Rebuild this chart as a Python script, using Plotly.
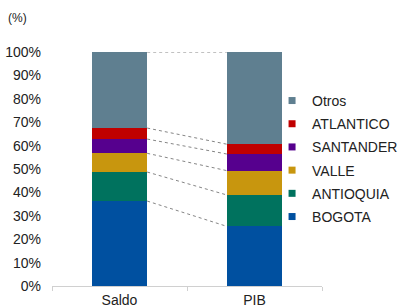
import plotly.graph_objects as go
import numpy as np

categories = ["Saldo", "PIB"]
series_names = ["BOGOTA", "ANTIOQUIA", "VALLE", "SANTANDER", "ATLANTICO", "Otros"]
bogota = [36.3, 25.5]
antioquia = [12.4, 13.4]
valle = [8.0, 10.4]
santander = [6.1, 7.1]
atlantico = [4.7, 4.2]
otros = [32.5, 39.4]
y_ticks = list(range(0, 101, 10))
y_tick_labels = [f"{v}%" for v in y_ticks]

colors = ["#0050A0", "#00725E", "#C8960E", "#56008E", "#C00000", "#5F7F90"]
series = [bogota, antioquia, valle, santander, atlantico, otros]

bar_w = 0.41
fig = go.Figure()
for name, vals, col in zip(series_names, series, colors):
    fig.add_trace(go.Bar(x=categories, y=vals, name=name, marker_color=col,
                         marker_line_width=0, width=bar_w, showlegend=False))
# legend entries, top to bottom: Otros ... BOGOTA
for name, col in reversed(list(zip(series_names, colors))):
    fig.add_trace(go.Scatter(x=[None], y=[None], mode="markers", name=name,
                             legendgroup=name,
                             marker=dict(symbol="square", size=7, color=col)))

# dotted connectors between segment tops
cum = np.cumsum(np.array(series), axis=0)
for row in cum:
    fig.add_shape(type="line", xref="x", yref="y",
                  x0=0 + bar_w / 2, x1=1 - bar_w / 2, y0=row[0], y1=row[1],
                  line=dict(color="#666666", width=0.8, dash="dot"))

fig.add_annotation(text="(%)", xref="paper", yref="paper", x=-0.128, y=1.145,
                   xanchor="center", yanchor="middle", showarrow=False,
                   font=dict(size=12, color="#222"))

fig.update_layout(
    width=401, height=307,
    margin=dict(l=52, r=79, t=52, b=21, autoexpand=False),
    barmode="stack",
    plot_bgcolor="white", paper_bgcolor="white",
    font=dict(family="Liberation Sans, Arial, sans-serif", size=14, color="#222"),
    showlegend=True,
    legend=dict(x=0.815, y=0.543, xanchor="left", yanchor="middle",
                traceorder="grouped", tracegroupgap=2,
                font=dict(size=14), itemwidth=30, bgcolor="rgba(0,0,0,0)"),
    xaxis=dict(type="category", range=[-0.5, 1.5], showgrid=False,
               showline=True, linecolor="#d0d0d0", linewidth=1,
               ticks="outside", tickson="boundaries", ticklen=4, tickcolor="#d0d0d0",
               ticklabelstandoff=1,
               automargin=False, tickfont=dict(size=14)),
    yaxis=dict(range=[0, 100], tickvals=y_ticks, ticktext=y_tick_labels,
               showgrid=False, showline=False, zeroline=False,
               ticklabelstandoff=10, automargin=False, tickfont=dict(size=14)),
)

fig.write_html("out.html", config={"displayModeBar": False},
               post_script="document.body.style.margin='0';document.body.style.overflow='hidden';")
